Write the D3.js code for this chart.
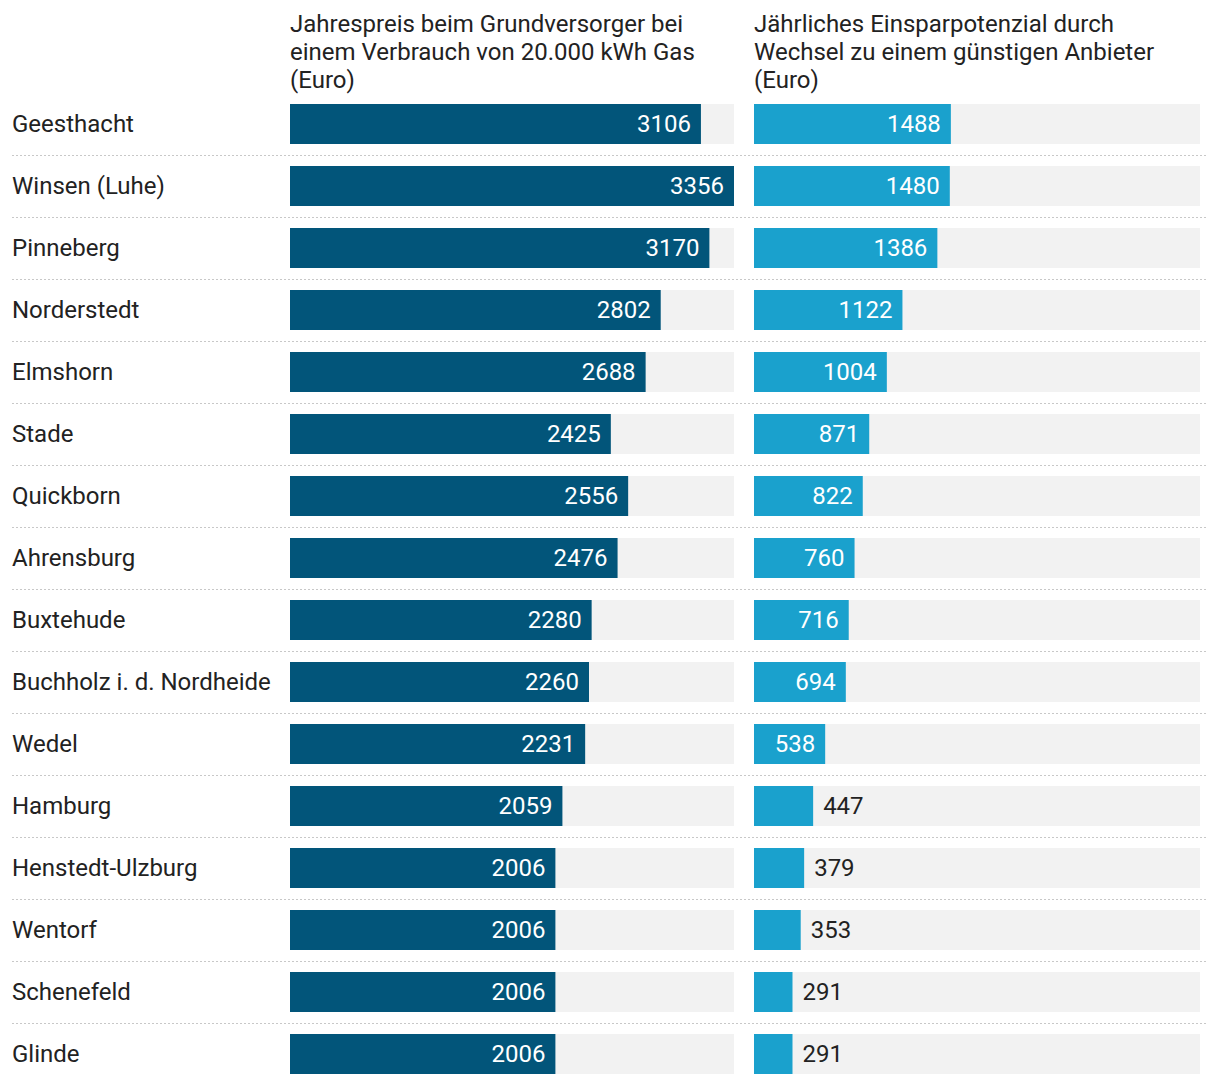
<!DOCTYPE html>
<html><head><meta charset="utf-8">
<script src="https://cdn.jsdelivr.net/npm/d3@7"></script>
<style>body{margin:0;background:#fff;font-family:Roboto,sans-serif;}</style>
</head><body><svg id="c" width="1220" height="1084"></svg>
<script>
const cities = ["Geesthacht","Winsen (Luhe)","Pinneberg","Norderstedt","Elmshorn","Stade","Quickborn","Ahrensburg","Buxtehude","Buchholz i. d. Nordheide","Wedel","Hamburg","Henstedt-Ulzburg","Wentorf","Schenefeld","Glinde"];
const price = [3106,3356,3170,2802,2688,2425,2556,2476,2280,2260,2231,2059,2006,2006,2006,2006];
const savings = [1488,1480,1386,1122,1004,871,822,760,716,694,538,447,379,353,291,291];
const title1 = ["Jahrespreis beim Grundversorger bei","einem Verbrauch von 20.000 kWh Gas","(Euro)"];
const title2 = ["Jährliches Einsparpotenzial durch","Wechsel zu einem günstigen Anbieter","(Euro)"];

const svg = d3.select("#c");
const fs = 24;
const y0 = 104, rowH = 62, barH = 40;
const y = d3.scaleBand().domain(cities).range([y0, y0 + rowH*cities.length]).paddingInner(0).paddingOuter(0);
const yPos = c => y(c);

const maxV = d3.max(price);
const cols = [
  {x0:290, x1:734, data:price, color:"#02557a", title:title1},
  {x0:754, x1:1200, data:savings, color:"#1aa1cd", title:title2}
];

// separators
cities.forEach((c,i)=>{
  if(i<cities.length-1){
    svg.append("line").attr("x1",12).attr("x2",1208)
      .attr("y1",yPos(c)+51.5).attr("y2",yPos(c)+51.5)
      .attr("stroke","#c8c8c8").attr("stroke-width",1.2).attr("stroke-dasharray","2,2");
  }
});

// category labels
svg.selectAll("text.cat").data(cities).join("text").attr("class","cat")
  .attr("x",12).attr("y",c=>yPos(c)+barH/2).attr("dy","0.35em")
  .attr("font-size",fs).attr("fill","#222").text(d=>d);

cols.forEach(col=>{
  const x = d3.scaleLinear().domain([0,maxV]).range([col.x0, col.x0 + (734-290)]);
  const g = svg.append("g");
  col.title.forEach((t,i)=>{
    g.append("text").attr("x",col.x0).attr("y",32+28*i).attr("font-size",fs).attr("fill","#222").text(t);
  });
  g.selectAll("rect.bg").data(cities).join("rect").attr("class","bg")
    .attr("x",col.x0).attr("width",col.x1-col.x0).attr("y",c=>yPos(c)).attr("height",barH).attr("fill","#f2f2f2");
  g.selectAll("rect.bar").data(col.data).join("rect").attr("class","bar")
    .attr("x",col.x0).attr("width",d=>x(d)-col.x0).attr("y",(d,i)=>yPos(cities[i])).attr("height",barH).attr("fill",col.color);
  g.selectAll("text.val").data(col.data).join("text").attr("class","val")
    .each(function(d,i){
      const w = x(d)-col.x0;
      const inside = w > 65;
      d3.select(this)
        .attr("x", inside ? x(d)-10 : x(d)+10)
        .attr("text-anchor", inside ? "end" : "start")
        .attr("fill", inside ? "#fff" : "#222")
        .attr("y", yPos(cities[i])+barH/2).attr("dy","0.35em")
        .attr("font-size",fs).text(d);
    });
});
</script></body></html>
